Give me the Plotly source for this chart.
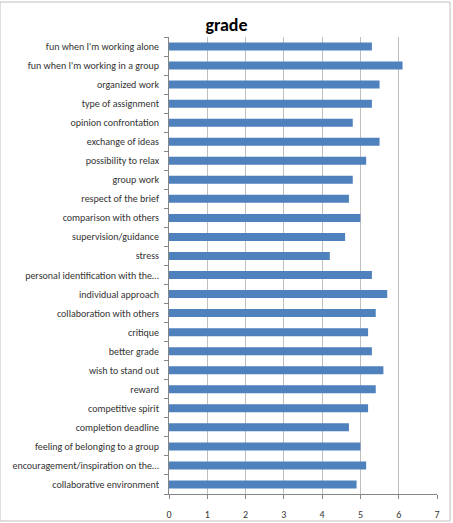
import plotly.graph_objects as go

categories = [
    "fun when I'm working alone",
    "fun when I'm working in a group",
    "organized work",
    "type of assignment",
    "opinion confrontation",
    "exchange of ideas",
    "possibility to relax",
    "group work",
    "respect of the brief",
    "comparison with others",
    "supervision/guidance",
    "stress",
    "personal identification with the…",
    "individual approach",
    "collaboration with others",
    "critique",
    "better grade",
    "wish to stand out",
    "reward",
    "competitive spirit",
    "completion deadline",
    "feeling of belonging to a group",
    "encouragement/inspiration on the…",
    "collaborative environment",
]
grade = [5.3, 6.1, 5.5, 5.3, 4.8, 5.5, 5.15, 4.8, 4.7, 5.0, 4.6, 4.2,
         5.3, 5.7, 5.4, 5.2, 5.3, 5.6, 5.4, 5.2, 4.7, 5.0, 5.15, 4.9]
x_ticks = [0, 1, 2, 3, 4, 5, 6, 7]

font_family = "Carlito, Calibri, Lato, sans-serif"

fig = go.Figure(go.Bar(
    y=categories,
    x=grade,
    orientation="h",
    marker=dict(color="#4F81BD", line=dict(width=0)),
))

fig.update_layout(
    width=453, height=523,
    paper_bgcolor="white", plot_bgcolor="white",
    margin=dict(l=169, r=16, t=37, b=29),
    bargap=0.58,
    showlegend=False,
    title=dict(text="<b>grade</b>", x=0.5, xanchor="center", y=0.952, yanchor="middle",
               font=dict(family=font_family, size=18, color="black")),
    font=dict(family=font_family, size=10, color="#333333"),
    shapes=[dict(type="rect", xref="paper", yref="paper",
                 x0=-169/268, x1=1 + 13/268, y0=-27/457, y1=1 + 35/457,
                 line=dict(color="#BFBFBF", width=1), fillcolor="rgba(0,0,0,0)", layer="below")],
)

fig.update_xaxes(
    range=[0, 7], tickvals=x_ticks, showgrid=True, gridcolor="#BFBFBF", gridwidth=1,
    showline=True, linecolor="#868686", linewidth=1, ticks="outside", ticklen=4,
    tickcolor="#868686", zeroline=False, tickfont=dict(size=10, color="#333333"),
    ticklabelstandoff=7, automargin=False, fixedrange=True,
)
fig.update_yaxes(
    categoryorder="array", categoryarray=categories[::-1], autorange=False,
    range=[-0.5, len(categories) - 0.5],
    showline=True, linecolor="#868686", linewidth=1, ticks="outside", ticklen=4,
    tickcolor="#868686", tickson="boundaries", showgrid=False,
    tickfont=dict(size=10, color="#333333"), ticklabelstandoff=7,
    automargin=False, fixedrange=True,
)

fig.write_html("out.html")
